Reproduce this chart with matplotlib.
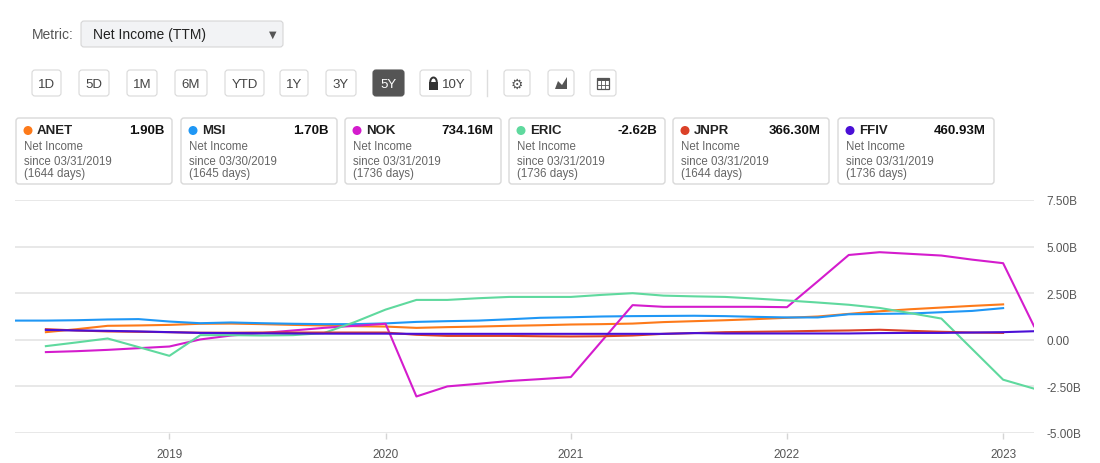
import numpy as np
import matplotlib
matplotlib.use("Agg")
import matplotlib.pyplot as plt
from matplotlib.patches import FancyBboxPatch, Rectangle, Circle, Polygon, Arc

plt.rcParams['font.family'] = ['Liberation Sans', 'DejaVu Sans']

# one entry per chart column; the x axis is ordinal (one slot per reporting date)
point_years = [2018] * 5 + [2019] * 7 + [2020] * 6 + [2021] * 7 + [2022] * 7 + [2023] * 2

nan = np.nan
# net income (TTM), billions USD
anet = [nan, 0.41, 0.57, 0.75, 0.77, 0.80, 0.86, 0.87, 0.84, 0.80, 0.77, 0.73,
        0.71, 0.64, 0.68, 0.71, 0.75, 0.78, 0.82, 0.84, 0.87, 0.95, 1.00,
        1.05, 1.11, 1.18, 1.25, 1.39, 1.53, 1.64, 1.73, 1.82, 1.90, nan]
msi = [1.03, 1.03, 1.05, 1.09, 1.11, 0.98, 0.89, 0.93, 0.89, 0.86, 0.84, 0.84,
       0.88, 0.96, 1.00, 1.03, 1.10, 1.18, 1.21, 1.25, 1.27, 1.28, 1.29,
       1.27, 1.23, 1.20, 1.20, 1.37, 1.39, 1.41, 1.48, 1.55, 1.70, nan]
nok = [nan, -0.66, -0.61, -0.54, -0.45, -0.36, 0.02, 0.23, 0.36, 0.50, 0.64, 0.75,
       0.86, -3.04, -2.50, -2.36, -2.21, -2.11, -2.00, -0.07, 1.86, 1.77, 1.77,
       1.77, 1.77, 1.75, 3.14, 4.55, 4.70, 4.61, 4.52, 4.30, 4.11, 0.73]
eric = [nan, -0.34, -0.14, 0.07, -0.39, -0.86, 0.25, 0.25, 0.23, 0.25, 0.36, 0.95,
        1.62, 2.14, 2.14, 2.23, 2.30, 2.30, 2.30, 2.41, 2.50, 2.37, 2.33,
        2.30, 2.21, 2.11, 2.00, 1.88, 1.71, 1.43, 1.14, -0.50, -2.14, -2.62]
jnpr = [nan, 0.57, 0.50, 0.45, 0.43, 0.41, 0.38, 0.38, 0.39, 0.39, 0.39, 0.39,
        0.39, 0.27, 0.21, 0.21, 0.21, 0.19, 0.18, 0.19, 0.23, 0.32, 0.36,
        0.41, 0.43, 0.45, 0.48, 0.50, 0.54, 0.48, 0.43, 0.39, 0.37, nan]
ffiv = [nan, 0.53, 0.50, 0.48, 0.45, 0.41, 0.37, 0.36, 0.35, 0.34, 0.33, 0.33,
        0.33, 0.32, 0.32, 0.32, 0.32, 0.32, 0.32, 0.32, 0.32, 0.32, 0.36,
        0.34, 0.34, 0.34, 0.34, 0.34, 0.36, 0.37, 0.37, 0.39, 0.41, 0.46]

tickers = ["ANET", "MSI", "NOK", "ERIC", "JNPR", "FFIV"]
series = [anet, msi, nok, eric, jnpr, ffiv]
colors = ["#fd7a1a", "#1f97f5", "#d41ccd", "#5fd99e", "#db4128", "#4a0fd6"]
latest = ["1.90B", "1.70B", "734.16M", "-2.62B", "366.30M", "460.93M"]
since = ["03/31/2019", "03/30/2019", "03/31/2019", "03/31/2019", "03/31/2019", "03/31/2019"]
days = [1644, 1645, 1736, 1736, 1644, 1736]
y_ticks = [-5.0, -2.5, 0.0, 2.5, 5.0, 7.5]
ranges = ["1D", "5D", "1M", "6M", "YTD", "1Y", "3Y", "5Y", "10Y"]
active_range = "5Y"

W, H = 1100, 464
fig = plt.figure(figsize=(W / 100, H / 100), dpi=100)

# overlay in pixel coordinates for the controls and legend cards
ui = fig.add_axes([0, 0, 1, 1])
ui.set_xlim(0, W)
ui.set_ylim(H, 0)
ui.axis('off')

# metric selector
ui.text(32, 35, "Metric:", va='center', fontsize=10, color='#555555')
ui.add_patch(FancyBboxPatch((81, 22), 202, 26, boxstyle="round,pad=0,rounding_size=3",
                            fc='#f2f3f5', ec='#d6d6d6', lw=0.8))
ui.text(93, 35, "Net Income (TTM)", va='center', fontsize=10, color='#222222')
ui.text(273, 35, "\u25bc", va='center', ha='center', fontsize=7, color='#555555',
        family='DejaVu Sans')

# range buttons
btn_x = [(32, 61), (79, 109), (127, 157), (175, 207), (225, 264),
         (280, 308), (326, 356), (373, 404), (420, 471)]
for label, (x0, x1) in zip(ranges, btn_x):
    on = label == active_range
    ui.add_patch(FancyBboxPatch((x0, 71), x1 - x0, 26, boxstyle="round,pad=0,rounding_size=3",
                                fc='#555555' if on else 'white',
                                ec='#555555' if on else '#d9d9d9', lw=0.8))
    cx = (x0 + x1) / 2
    if label == "10Y":
        # padlock
        ui.add_patch(Rectangle((429, 83), 9, 8, fc='#333333', ec='none'))
        ui.add_patch(Arc((433.5, 83), 6.5, 9, theta1=180, theta2=360, color='#333333', lw=1.4))
        cx = 454
    ui.text(cx, 84.5, label, ha='center', va='center', fontsize=9.5,
            color='white' if on else '#444444')

ui.plot([487, 487], [71, 97], color='#dddddd', lw=1)

for x0 in (504, 548, 590):
    ui.add_patch(FancyBboxPatch((x0, 71), 26, 26, boxstyle="round,pad=0,rounding_size=3",
                                fc='white', ec='#d9d9d9', lw=0.8))
ui.text(517, 84.5, "\u2699", ha='center', va='center', fontsize=10, color='#555555',
        family='DejaVu Sans')
ui.add_patch(Polygon([(555, 90), (558, 82), (562, 86), (567, 78), (567, 90)],
                     closed=True, fc='#555555', ec='none'))
ui.add_patch(Rectangle((597, 79), 12, 11, fc='none', ec='#555555', lw=0.9))
ui.add_patch(Rectangle((597, 79), 12, 3, fc='#555555', ec='none'))
for gx in (601, 605):
    ui.plot([gx, gx], [79, 90], color='#555555', lw=0.6)
for gy in (85.5,):
    ui.plot([597, 609], [gy, gy], color='#555555', lw=0.6)

# legend cards
card_x = [16, 181, 345, 509, 673, 838]
for x0, tk, col, val, sd, nd in zip(card_x, tickers, colors, latest, since, days):
    ui.add_patch(FancyBboxPatch((x0, 119), 156, 66, boxstyle="round,pad=0,rounding_size=3",
                                fc='white', ec='#d9d9d9', lw=1))
    ui.add_patch(Circle((x0 + 12, 131.5), 4.5, fc=col, ec='none'))
    ui.text(x0 + 21, 131.5, tk, va='center', fontsize=9.5, fontweight='bold', color='#222222')
    ui.text(x0 + 148, 131.5, val, va='center', ha='right', fontsize=9.5,
            fontweight='bold', color='#111111')
    ui.text(x0 + 8, 147.5, "Net Income", va='center', fontsize=8.3, color='#666666')
    ui.text(x0 + 8, 162, f"since {sd}", va='center', fontsize=8.3, color='#666666')
    ui.text(x0 + 8, 174.5, f"({nd} days)", va='center', fontsize=8.3, color='#666666')

# chart
ax = fig.add_axes([15 / W, 1 - 434 / H, (1034 - 15) / W, (434 - 201) / H])
ax.set_facecolor('none')
x = np.arange(len(point_years))
for vals, col in zip(series, colors):
    ax.plot(x, vals, color=col, lw=1.5, solid_joinstyle='round')

ax.set_xlim(0, len(point_years) - 1)
ax.set_ylim(y_ticks[0], y_ticks[-1])

years = sorted(set(point_years))[1:]
ax.set_xticks([point_years.index(yr) for yr in years])
ax.set_xticklabels([str(yr) for yr in years])
ax.set_yticks(y_ticks)
ax.set_yticklabels(["0.00" if v == 0 else f"{v:.2f}B" for v in y_ticks])
ax.yaxis.tick_right()
ax.tick_params(axis='y', length=0, pad=9, labelsize=8.5, labelcolor='#555555')
ax.tick_params(axis='x', length=4, width=1, color='#d5d5d5', pad=7,
               labelsize=8.5, labelcolor='#555555')
ax.grid(axis='y', color='#e6e6e6', lw=1.3)
ax.set_axisbelow(True)
for sp in ax.spines.values():
    sp.set_visible(False)

fig.savefig("out.png", dpi=100)
